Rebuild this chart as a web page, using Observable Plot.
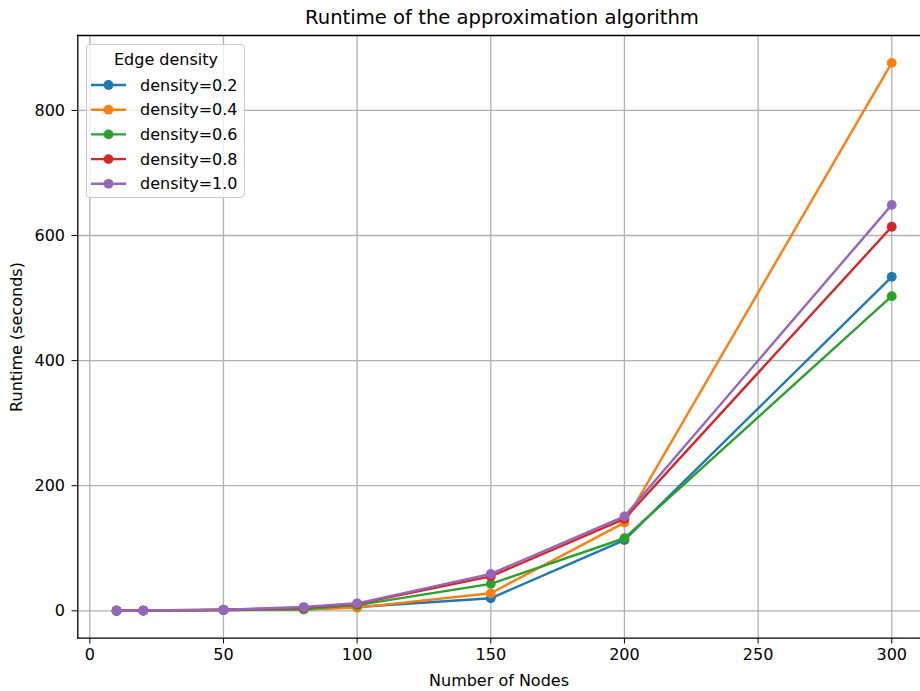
<!DOCTYPE html>
<html>
<head>
<meta charset="utf-8">
<script src="https://cdn.jsdelivr.net/npm/d3@7"></script>
<script src="https://cdn.jsdelivr.net/npm/@observablehq/plot@0.6"></script>
<style>
  html, body { margin: 0; padding: 0; background: #fff; }
  #wrap { position: relative; width: 920px; height: 691px; font-family: "DejaVu Sans", sans-serif; }
  #title { position: absolute; left: 77px; width: 850px; top: 6px; text-align: center; font-size: 19.6px; color: #000; white-space: nowrap; }
  #legend { position: absolute; left: 86px; top: 44px; width: 159px; height: 154px; border: 1px solid #cccccc; border-radius: 4px; background: rgba(255,255,255,0.8); box-sizing: border-box; }
</style>
</head>
<body>
<div id="wrap">
  <div id="chart"></div>
  <div id="title">Runtime of the approximation algorithm</div>
  <div id="legend"></div>
</div>
<script>
const nodes = [10, 20, 50, 80, 100, 150, 200, 300];
const density02 = [0.1, 0.3, 1.2, 2, 6, 20, 113, 534];
const density04 = [0.1, 0.3, 1.3, 3, 5, 28, 141, 876];
const density06 = [0.1, 0.3, 1.4, 3, 9, 43, 116, 503];
const density08 = [0.1, 0.4, 1.6, 5, 11, 55, 147, 614];
const density10 = [0.1, 0.4, 1.7, 6, 12, 59, 151, 649];
const seriesNames = ["density=0.2", "density=0.4", "density=0.6", "density=0.8", "density=1.0"];
const seriesValues = [density02, density04, density06, density08, density10];
const colors = ["#1f77b4", "#ff7f0e", "#2ca02c", "#d62728", "#9467bd"];
const xTicks = [0, 50, 100, 150, 200, 250, 300];
const yTicks = [0, 200, 400, 600, 800];
const legendTitle = "Edge density";

const xDomain = [-4.5, 314.5];
const yDomain = [-43.8, 919.8];

const gridStyle = {stroke: "#b0b0b0", strokeOpacity: 1, strokeWidth: 1.3};

const marks = [
  Plot.gridX(xTicks, gridStyle),
  Plot.gridY(yTicks, gridStyle),
];
seriesValues.forEach((vals, i) => {
  const data = nodes.map((n, j) => ({x: n, y: vals[j]}));
  marks.push(Plot.line(data, {x: "x", y: "y", stroke: colors[i], strokeWidth: 2.4}));
  marks.push(Plot.dot(data, {x: "x", y: "y", fill: colors[i], r: 4.9, stroke: "none"}));
});
marks.push(
  Plot.ruleX([xDomain[0]], {stroke: "#000", strokeWidth: 1.3}),
  Plot.ruleY([yDomain[0]], {stroke: "#000", strokeWidth: 1.3}),
  Plot.ruleY([yDomain[1]], {stroke: "#000", strokeWidth: 1.3}),
  Plot.axisX(xTicks, {tickSize: 5.5, tickPadding: 5, fontSize: 16, label: "Number of Nodes", labelAnchor: "center", labelArrow: "none", labelOffset: 47, fill: "#000", stroke: "#000"}),
  Plot.axisY(yTicks, {tickSize: 5.5, tickPadding: 7, fontSize: 16, label: "Runtime (seconds)", labelAnchor: "center", labelArrow: "none", labelOffset: 67, fill: "#000", stroke: "#000"})
);

const chart = Plot.plot({
  width: 920,
  height: 691,
  marginTop: 35,
  marginLeft: 77,
  marginBottom: 53,
  marginRight: 0,
  x: {domain: xDomain, range: [77.3, 930]},
  y: {domain: yDomain, range: [637.7, 35]},
  style: {fontFamily: "DejaVu Sans", fontSize: "16.5px", color: "#000", background: "#fff", overflow: "visible"},
  marks
});
document.getElementById("chart").appendChild(chart);

// legend
const leg = d3.select("#legend").append("svg").attr("width", 159).attr("height", 154)
  .style("font-family", "DejaVu Sans").style("font-size", "16px");
leg.append("text").attr("x", 79).attr("y", 14).attr("dy", "0.35em").attr("text-anchor", "middle").text(legendTitle);
seriesNames.forEach((name, i) => {
  const cy = 40 + i * 24.7;
  leg.append("line").attr("x1", 4).attr("x2", 39).attr("y1", cy).attr("y2", cy).attr("stroke", colors[i]).attr("stroke-width", 2.4);
  leg.append("circle").attr("cx", 21.5).attr("cy", cy).attr("r", 4.9).attr("fill", colors[i]);
  leg.append("text").attr("x", 53).attr("y", cy).attr("dy", "0.35em").text(name);
});
</script>
</body>
</html>
